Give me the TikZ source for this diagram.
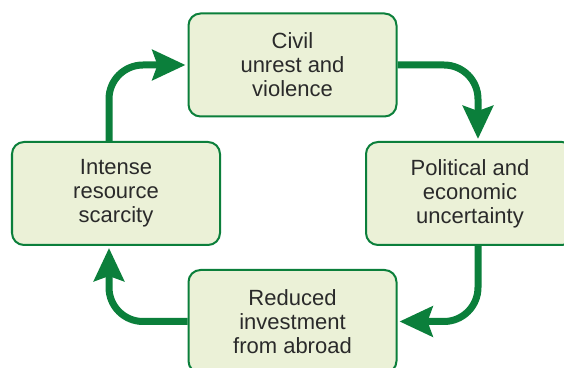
\documentclass[tikz,border=0pt]{standalone}
\usepackage{fontspec}
\setmainfont{Liberation Sans}
\usetikzlibrary{arrows.meta}
\definecolor{cyclegreen}{HTML}{0B7F3B}
\definecolor{cyclefill}{HTML}{EBF1D7}
\definecolor{cycletext}{HTML}{2A2A2A}

\begin{document}
\begin{tikzpicture}[x=0.5pt,y=-0.5pt,
		stage/.style={draw=cyclegreen,line width=1pt,fill=cyclefill,rounded corners=6pt,
			minimum width=104pt,minimum height=51.5pt,align=center,text=cycletext,
			font=\fontsize{11}{12}\selectfont},
		flow/.style={draw=cyclegreen,line width=3.5pt,rounded corners=17pt,
			-{Stealth[length=16.5pt,width=15pt,inset=2.5pt]},shorten >=1pt}]
		\useasboundingbox (0,0) rectangle (564,368);
		% Draw stages.
		\node[stage] (civil) at (292.5,65) {Civil\\unrest and\\violence};
		\node[stage] (political) at (470,193.5) {Political and\\economic\\uncertainty};
		\node[stage] (reduced) at (292.5,321.5) {Reduced\\investment\\from abroad};
		\node[stage] (scarcity) at (116,193.5) {Intense\\resource\\scarcity};
		% Draw cycle.
		\draw[flow] (civil.east) -| ([xshift=4pt]political.north);
		\draw[flow] ([xshift=4pt]political.south) |- (reduced.east);
		\draw[flow] (reduced.west) -| ([xshift=-3.5pt]scarcity.south);
		\draw[flow] ([xshift=-3.5pt]scarcity.north) |- (civil.west);
	\end{tikzpicture}
\end{document}
